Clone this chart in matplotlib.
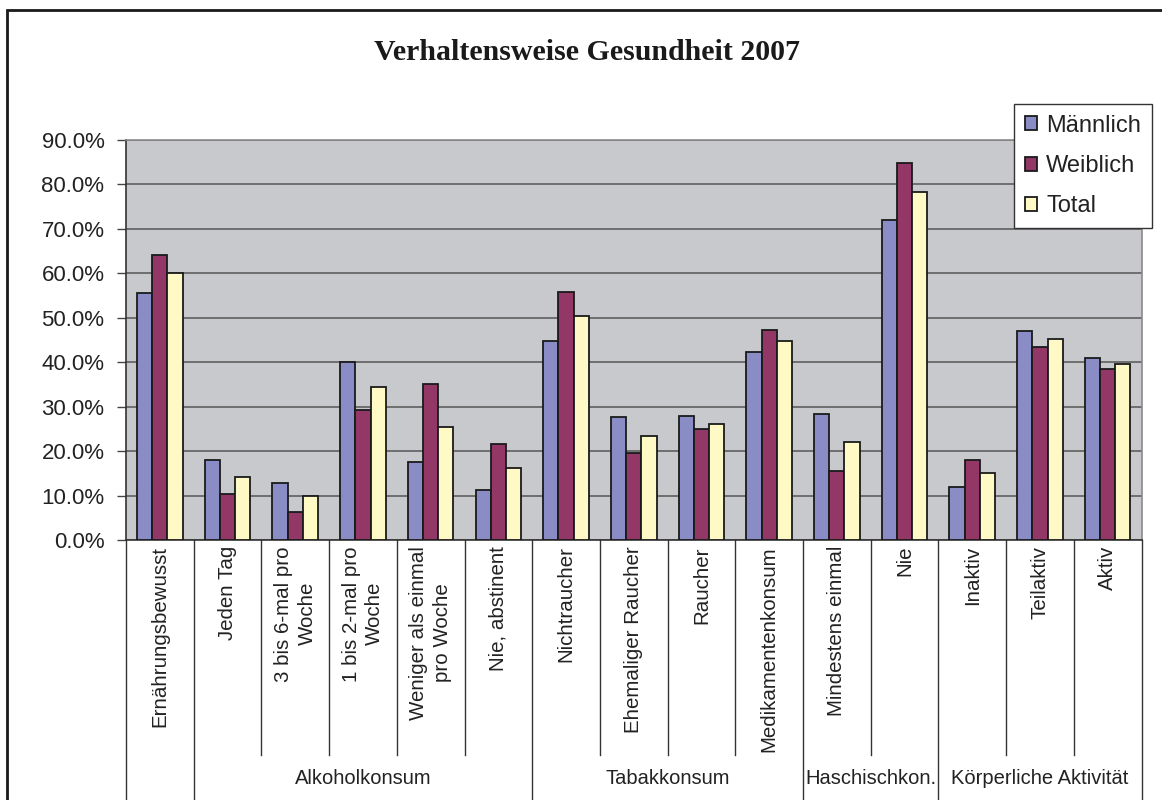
import matplotlib
matplotlib.use("Agg")
import matplotlib.pyplot as plt
import numpy as np
from matplotlib.ticker import FuncFormatter, FixedLocator

plt.rcParams['font.family'] = ['Liberation Sans', 'DejaVu Sans']

# Data: share of respondents per behaviour category (percent)
categories = [
    "Ernährungsbewusst",
    "Jeden Tag",
    "3 bis 6-mal pro\nWoche",
    "1 bis 2-mal pro\nWoche",
    "Weniger als einmal\npro Woche",
    "Nie, abstinent",
    "Nichtraucher",
    "Ehemaliger Raucher",
    "Raucher",
    "Medikamentenkonsum",
    "Mindestens einmal",
    "Nie",
    "Inaktiv",
    "Teilaktiv",
    "Aktiv",
]
maennlich = [55.5, 18.0, 12.9, 40.0, 17.5, 11.2, 44.8, 27.6, 28.0, 42.2, 28.3, 71.9, 12.0, 47.0, 40.9]
weiblich = [64.1, 10.3, 6.4, 29.2, 35.2, 21.5, 55.9, 19.5, 25.0, 47.3, 15.5, 84.8, 18.0, 43.4, 38.4]
total = [60.0, 14.2, 9.8, 34.4, 25.4, 16.3, 50.3, 23.3, 26.2, 44.8, 22.0, 78.4, 15.0, 45.2, 39.6]
series_names = ["Männlich", "Weiblich", "Total"]

# Outer groups: (label, first category index, number of categories)
groups = [
    ("", 0, 1),
    ("Alkoholkonsum", 1, 5),
    ("Tabakkonsum", 6, 4),
    ("Haschischkon.", 10, 2),
    ("Körperliche Aktivität", 12, 3),
]
yticks = [0, 10, 20, 30, 40, 50, 60, 70, 80, 90]
title = "Verhaltensweise Gesundheit 2007"

colors = ["#8a8cc5", "#933766", "#fff9c6"]
W, H = 1162, 800
fig = plt.figure(figsize=(W / 100, H / 100), dpi=100)

# Chart frame (runs off the right and bottom edges)
frame = plt.Rectangle((7 / W, -0.05), 1.2, 1 - 10 / H + 0.05, transform=fig.transFigure,
                      fill=False, edgecolor="#1a1a1a", linewidth=2.0)
fig.patches.append(frame)

left, right = 126 / W, 1141.5 / W
bottom, top = (H - 540) / H, (H - 140) / H
ax = fig.add_axes([left, bottom, right - left, top - bottom])
ax.set_facecolor("#c8c9cc")

n = len(categories)
x = np.arange(n) + 0.5
bw = 0.225
for k, (vals, c, name) in enumerate(zip([maennlich, weiblich, total], colors, series_names)):
    ax.bar(x + (k - 1) * bw, vals, width=bw, color=c, edgecolor="#1a1a1a",
           linewidth=1.3, label=name, zorder=3)

ax.set_xlim(0, n)
ax.set_ylim(0, 90)
ax.yaxis.set_major_locator(FixedLocator(yticks))
ax.yaxis.set_major_formatter(FuncFormatter(lambda v, p: f"{v:.1f}%"))
ax.grid(axis="y", color="#6e6e6e", linewidth=1.4, zorder=1)
ax.set_axisbelow(True)
ax.tick_params(axis="y", labelsize=16, length=6.5, width=1.0, color="#444444",
               pad=9, labelcolor="#222222")
ax.set_xticks([])
for s in ["top", "right"]:
    ax.spines[s].set_color("#8a8a8a")
    ax.spines[s].set_linewidth(1.2)
ax.spines["left"].set_color("#333333")
ax.spines["left"].set_linewidth(1.2)
ax.spines["bottom"].set_color("#333333")
ax.spines["bottom"].set_linewidth(1.2)

# Multi-level category axis below the plot
tr = ax.get_xaxis_transform()
inner_end = (540 - 755) / 400
outer_end = -0.8
group_bounds = set()
for _, start, cnt in groups:
    group_bounds.add(start)
    group_bounds.add(start + cnt)
for b in range(n + 1):
    yend = outer_end if b in group_bounds else inner_end
    ax.plot([b, b], [0, yend], transform=tr, color="#333333", linewidth=1.0,
            clip_on=False, zorder=5)

for xi, lab in zip(x, categories):
    ax.text(xi, -6 / 400, lab, transform=tr, rotation=90, ha="center", va="top",
            multialignment="center", fontsize=14.8, color="#222222", linespacing=1.3)

for lab, start, cnt in groups:
    if lab:
        ax.text(start + cnt / 2, (540 - 778) / 400, lab, transform=tr, ha="center",
                va="center", fontsize=14.5, color="#222222")

fig.text(587 / W, 1 - 52 / H, title, ha="center", va="center", fontsize=21.5,
         fontweight="bold", family=["Liberation Serif", "DejaVu Serif"], color="#1a1a1a")

leg = ax.legend(loc="upper left", bbox_to_anchor=(1014 / W, 1 - 104 / H),
                bbox_transform=fig.transFigure, fontsize=17, frameon=True,
                fancybox=False, edgecolor="#333333", framealpha=1.0,
                handlelength=0.52, handleheight=0.52, handletextpad=0.4,
                labelspacing=0.78, borderpad=0.45, borderaxespad=0)
leg.get_frame().set_linewidth(1.0)
for t in leg.get_texts():
    t.set_color("#222222")

fig.savefig("out.png", dpi=100)
